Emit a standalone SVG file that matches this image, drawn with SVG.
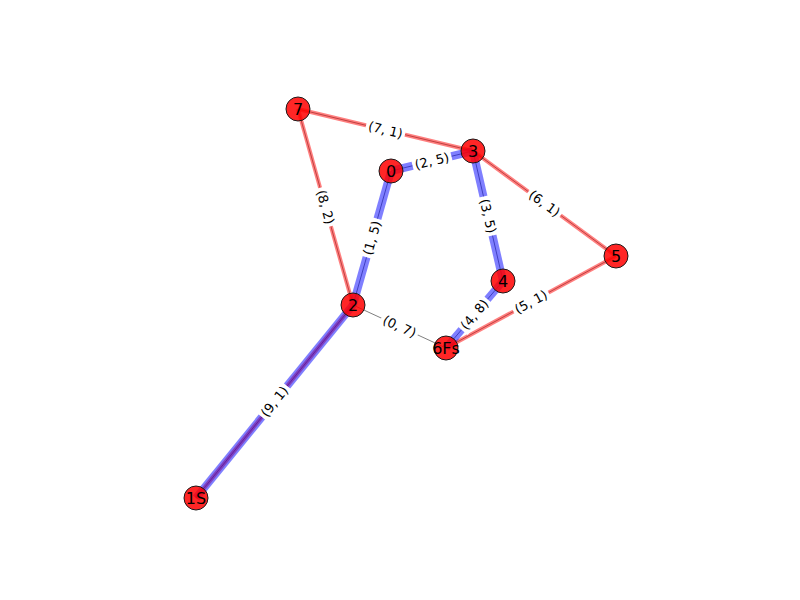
<svg xmlns="http://www.w3.org/2000/svg" width="800" height="600" viewBox="0 0 800 600">
<style>
.base{stroke:#000;stroke-opacity:0.5;stroke-width:1;fill:none}
.red{stroke:#ff0000;stroke-opacity:0.5;stroke-width:4;fill:none}
.blue{stroke:#0000ff;stroke-opacity:0.5;stroke-width:8;fill:none}
.node circle{fill:#ff0000;fill-opacity:0.85;stroke:#1a1a1a;stroke-width:1}
.node text{font-family:"DejaVu Sans",sans-serif;font-size:16px;fill:#000;text-anchor:middle}
.lab rect{fill:#fff}
.lab text{font-family:"DejaVu Sans",sans-serif;font-size:13px;fill:#000;text-anchor:middle}
</style>
<rect width="800" height="600" fill="#fff"/>
<g id="connectors">
<g id="base-edges">
<line class="base" x1="298" y1="109" x2="473" y2="151"/>
<line class="base" x1="298" y1="109" x2="353" y2="305"/>
<line class="base" x1="391" y1="171" x2="473" y2="151"/>
<line class="base" x1="391" y1="171" x2="353" y2="305"/>
<line class="base" x1="473" y1="151" x2="616" y2="256"/>
<line class="base" x1="473" y1="151" x2="503" y2="281"/>
<line class="base" x1="353" y1="305" x2="446" y2="348"/>
<line class="base" x1="503" y1="281" x2="446" y2="348"/>
<line class="base" x1="616" y1="256" x2="446" y2="348"/>
<line class="base" x1="353" y1="305" x2="196" y2="498"/>
</g>
<g id="red-edges">
<line class="red" x1="298" y1="109" x2="473" y2="151"/>
<line class="red" x1="298" y1="109" x2="353" y2="305"/>
<line class="red" x1="473" y1="151" x2="616" y2="256"/>
<line class="red" x1="616" y1="256" x2="446" y2="348"/>
<line class="red" x1="353" y1="305" x2="196" y2="498"/>
</g>
<g id="blue-edges">
<line class="blue" x1="391" y1="171" x2="473" y2="151"/>
<line class="blue" x1="391" y1="171" x2="353" y2="305"/>
<line class="blue" x1="473" y1="151" x2="503" y2="281"/>
<line class="blue" x1="503" y1="281" x2="446" y2="348"/>
<line class="blue" x1="353" y1="305" x2="196" y2="498"/>
</g>
</g>
<g id="nodes">
<g id="node-7" class="node"><circle cx="298" cy="109" r="12"/><text x="298" y="115">7</text></g>
<g id="node-3" class="node"><circle cx="473" cy="151" r="12"/><text x="473" y="157">3</text></g>
<g id="node-0" class="node"><circle cx="391" cy="171" r="12"/><text x="391" y="177">0</text></g>
<g id="node-5" class="node"><circle cx="616" cy="256" r="12"/><text x="616" y="262">5</text></g>
<g id="node-4" class="node"><circle cx="503" cy="281" r="12"/><text x="503" y="287">4</text></g>
<g id="node-2" class="node"><circle cx="353" cy="305" r="12"/><text x="353" y="311">2</text></g>
<g id="node-6Fs" class="node"><circle cx="446" cy="348" r="12"/><text x="446" y="354">6Fs</text></g>
<g id="node-1S" class="node"><circle cx="196" cy="498" r="12"/><text x="196" y="504">1S</text></g>
</g>
<g id="edge-labels">
<g class="lab" transform="translate(385.5,130) rotate(13.5)"><rect x="-20" y="-8" width="40" height="16"/><text y="4.5">(7, 1)</text></g>
<g class="lab" transform="translate(432,161) rotate(-13.7)"><rect x="-20" y="-8" width="40" height="16"/><text y="4.5">(2, 5)</text></g>
<g class="lab" transform="translate(325.5,207) rotate(74.3)"><rect x="-20" y="-8" width="40" height="16"/><text y="4.5">(8, 2)</text></g>
<g class="lab" transform="translate(372,238) rotate(-74.2)"><rect x="-20" y="-8" width="40" height="16"/><text y="4.5">(1, 5)</text></g>
<g class="lab" transform="translate(488,216) rotate(77)"><rect x="-20" y="-8" width="40" height="16"/><text y="4.5">(3, 5)</text></g>
<g class="lab" transform="translate(544.5,203.5) rotate(36.3)"><rect x="-20" y="-8" width="40" height="16"/><text y="4.5">(6, 1)</text></g>
<g class="lab" transform="translate(399.5,326.5) rotate(24.8)"><rect x="-20" y="-8" width="40" height="16"/><text y="4.5">(0, 7)</text></g>
<g class="lab" transform="translate(474.5,314.5) rotate(-49.6)"><rect x="-20" y="-8" width="40" height="16"/><text y="4.5">(4, 8)</text></g>
<g class="lab" transform="translate(531,302) rotate(-28.4)"><rect x="-20" y="-8" width="40" height="16"/><text y="4.5">(5, 1)</text></g>
<g class="lab" transform="translate(274.5,401.5) rotate(-50.9)"><rect x="-20" y="-8" width="40" height="16"/><text y="4.5">(9, 1)</text></g>
</g>
</svg>
